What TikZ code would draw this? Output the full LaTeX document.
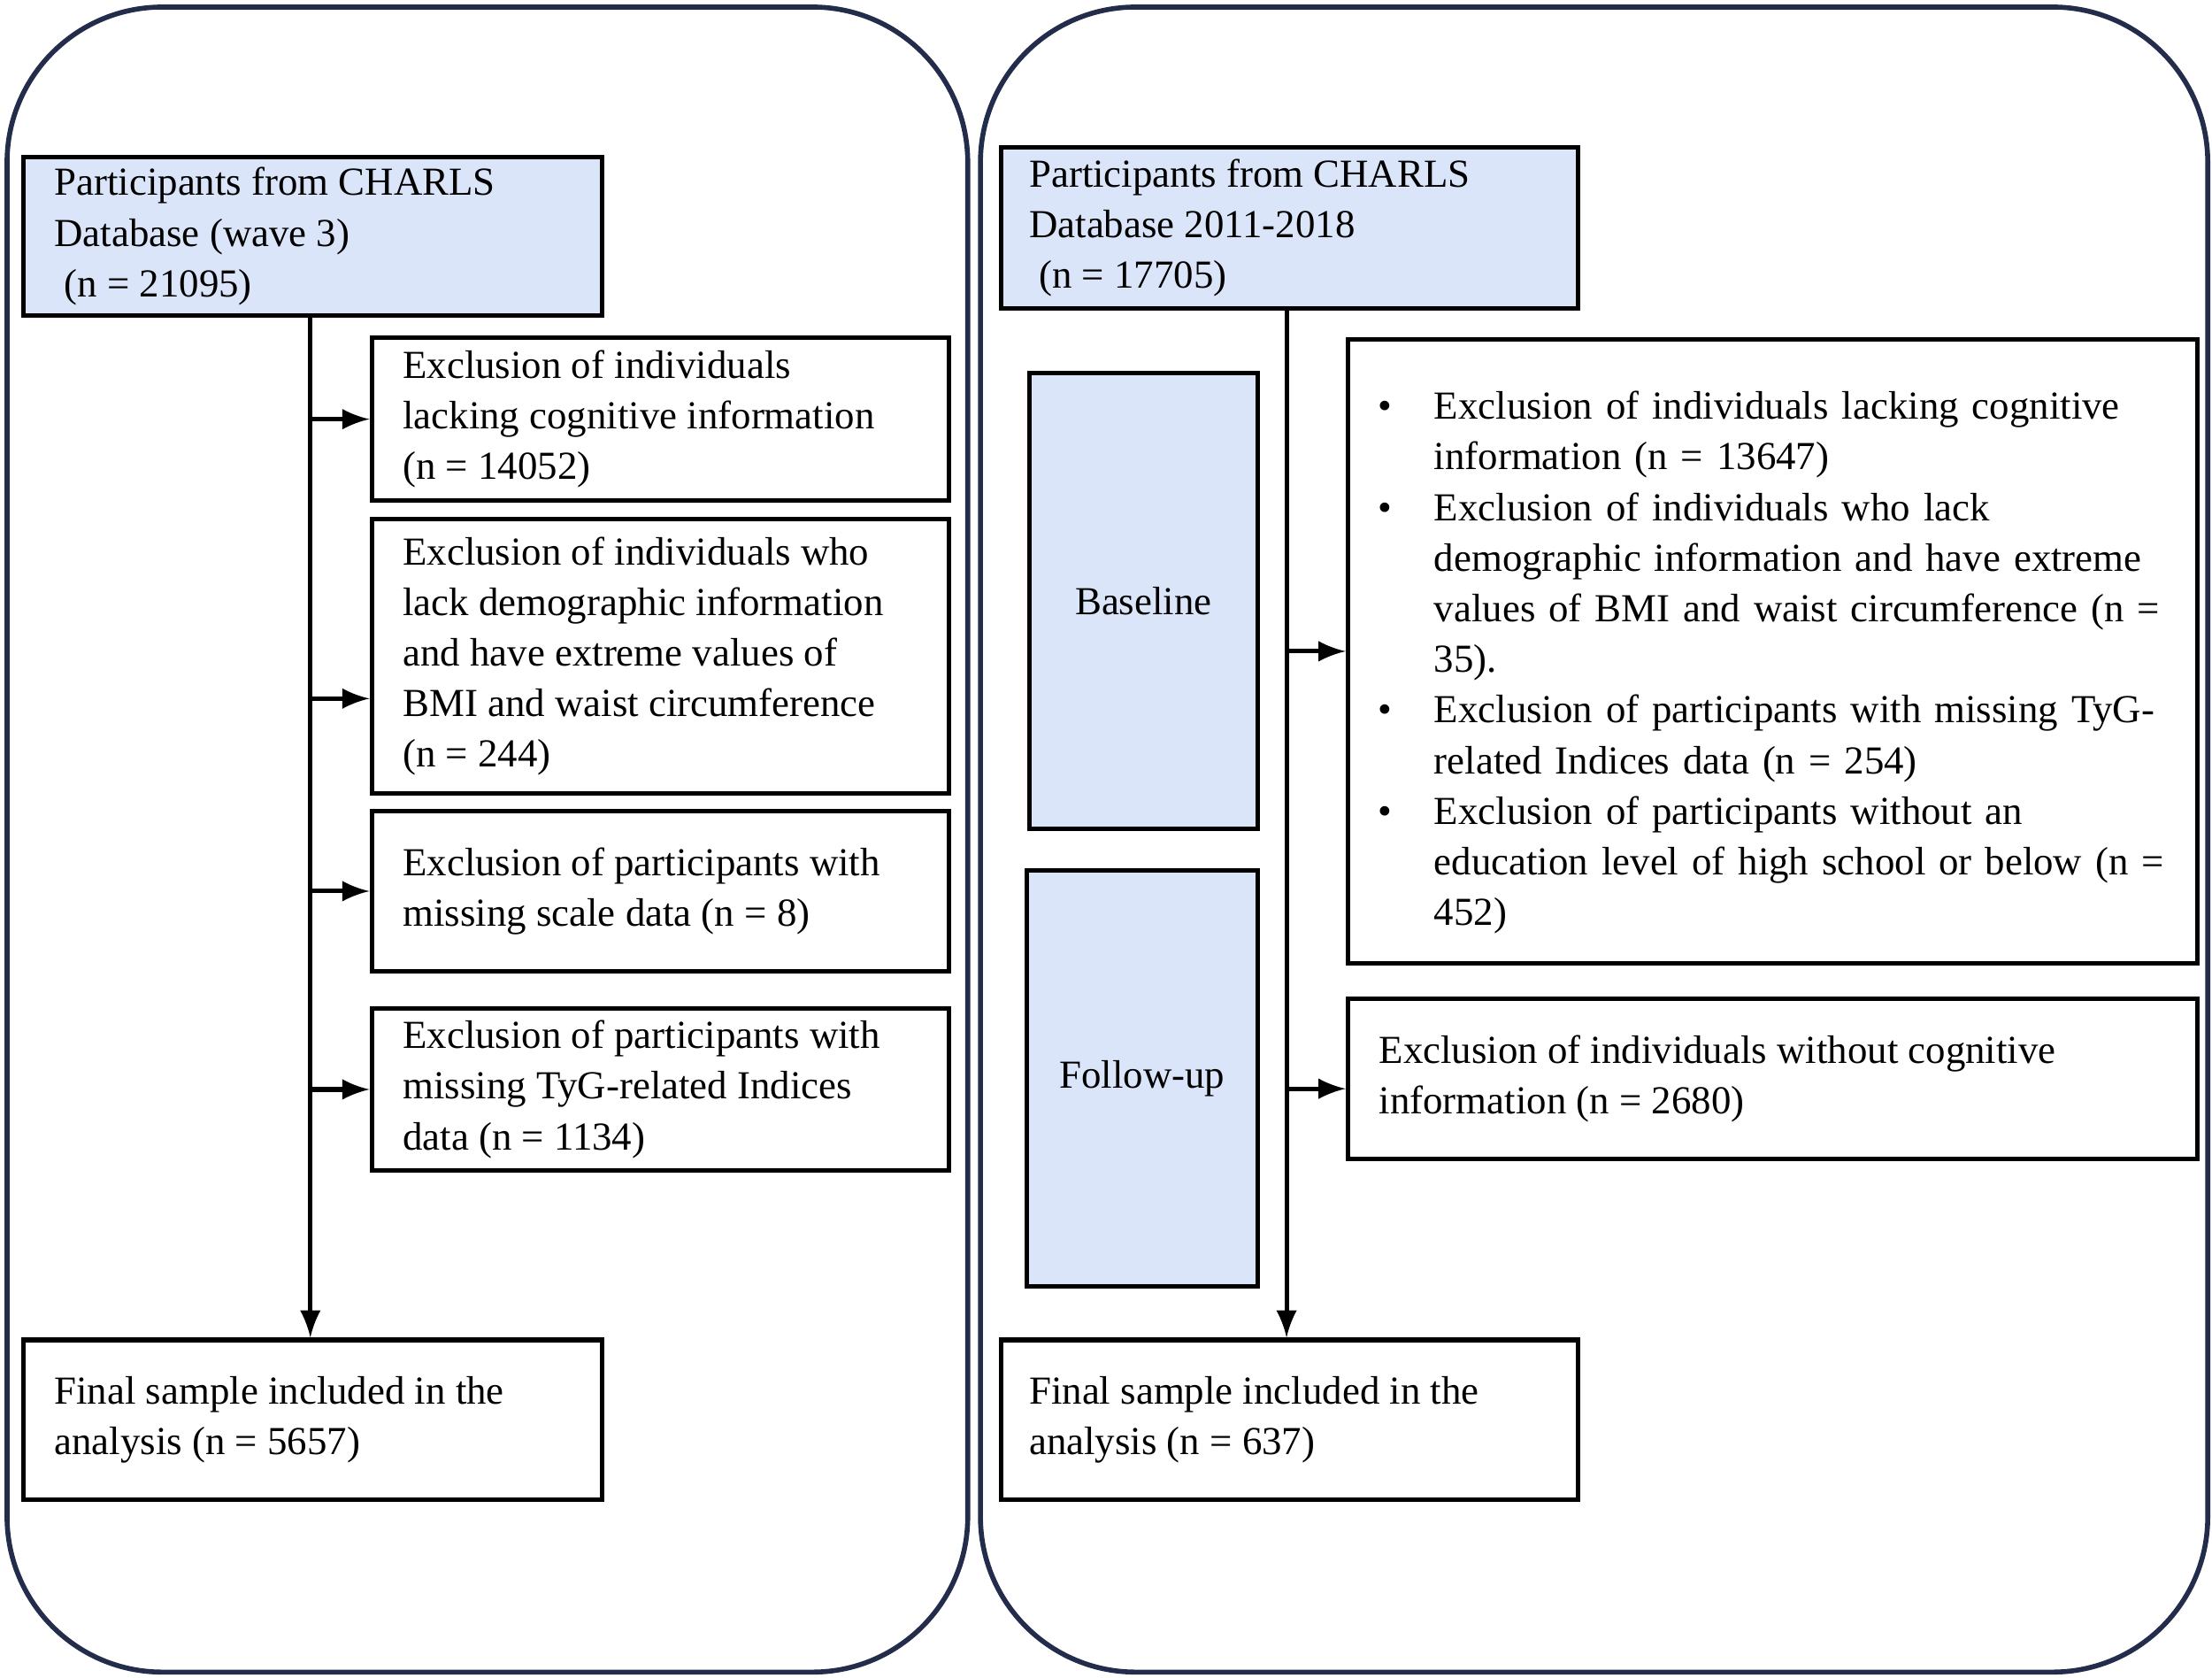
\documentclass[tikz,border=0pt]{standalone}
\usepackage{fontspec}
\setmainfont{Liberation Serif}
\usepackage{enumitem}
\usetikzlibrary{positioning,calc}
\tikzset{>=stealth}
\definecolor{boxblue}{RGB}{219,229,250}
\definecolor{frame}{RGB}{35,45,75}
\tikzset{
	box/.style={draw, line width=0.9pt, inner sep=0pt, align=left,
		font=\fontsize{8}{10.2}\selectfont},
	bluebox/.style={box, fill=boxblue},
	arr/.style={->, >=latex, line width=0.9pt},
	panel/.style={draw=frame, line width=1pt, rounded corners=1.1cm}
}
\newcommand{\boxat}[6]{% name, style, x1, y1, x2, y2
	\node[#2, minimum width={(#5-#3)*0.01cm}, minimum height={(#6-#4)*0.01cm},
		anchor=north west] (#1) at (#3,#4) {};
}
\begin{document}
\begin{tikzpicture}[x=0.01cm, y=-0.01cm]
	\useasboundingbox (0,0) rectangle (1568,1189);
	\draw[panel] (5,5) rectangle (686,1185);
	\draw[panel] (695,5) rectangle (1565,1185);

	% left panel
	\boxat{top}{bluebox}{15}{110}{425}{222}
	\boxat{exa}{box}{262}{238}{671}{353}
	\boxat{exb}{box}{262}{366}{671}{561}
	\boxat{exc}{box}{262}{573}{671}{687}
	\boxat{exd}{box}{262}{713}{671}{828}
	\boxat{final}{box}{15}{948}{425}{1061}
	\node[box, draw=none, anchor=west] at ($(top.west)+(22,0)$)
		{Participants from CHARLS\\Database (wave 3)\\\ (n = 21095)};
	\node[box, draw=none, anchor=west] at ($(exa.west)+(22,0)$)
		{Exclusion of individuals\\lacking cognitive information\\(n = 14052)};
	\node[box, draw=none, anchor=west] at ($(exb.west)+(22,0)$)
		{Exclusion of individuals who\\lack demographic information\\and have extreme values of\\BMI and waist circumference\\(n = 244)};
	\node[box, draw=none, anchor=west] at ($(exc.west)+(22,0)$)
		{Exclusion of participants with\\missing scale data (n = 8)};
	\node[box, draw=none, anchor=west] at ($(exd.west)+(22,0)$)
		{Exclusion of participants with\\missing TyG-related Indices\\data (n = 1134)};
	\node[box, draw=none, anchor=west] at ($(final.west)+(22,0)$)
		{Final sample included in the\\analysis (n = 5657)};

	\coordinate (exbin) at ($(exb.west)+(0,30)$);
	\draw[arr] (top.south -| 220,0) -- (final.north -| 220,0);
	\draw[arr] (exa.west -| 220,0) -- (exa.west);
	\draw[arr] (exbin -| 220,0) -- (exbin);
	\draw[arr] (exc.west -| 220,0) -- (exc.west);
	\draw[arr] (exd.west -| 220,0) -- (exd.west);

	% right panel
	\boxat{rtop}{bluebox}{708}{103}{1117}{217}
	\boxat{base}{bluebox}{728}{263}{890}{586}
	\boxat{follow}{bluebox}{726}{615}{890}{910}
	\boxat{rexa}{box}{954}{239}{1556}{681}
	\boxat{rexb}{box}{954}{706}{1556}{820}
	\boxat{rfinal}{box}{708}{948}{1117}{1061}
	\node[box, draw=none, anchor=west] at ($(rtop.west)+(20,0)$)
		{Participants from CHARLS\\Database 2011-2018\\\ (n = 17705)};
	\node[box, draw=none] at (base) {Baseline};
	\node[box, draw=none] at (follow) {Follow-up};
	\node[box, draw=none, anchor=west, text width=5.9cm] at ($(rexa.west)+(14,0)$) {%
		\begin{itemize}[leftmargin=0.47cm, labelsep=0.3cm, itemsep=0pt, parsep=0pt, topsep=0pt]
		\item Exclusion of individuals lacking cognitive\\information (n = 13647)
		\item Exclusion of individuals who lack\\demographic information and have extreme\\values of BMI and waist circumference (n =\\35).
		\item Exclusion of participants with missing TyG-\\related Indices data (n = 254)
		\item Exclusion of participants without an\\education level of high school or below (n =\\452)
		\end{itemize}};
	\node[box, draw=none, anchor=west] at ($(rexb.west)+(22,0)$)
		{Exclusion of individuals without cognitive\\information (n = 2680)};
	\node[box, draw=none, anchor=west] at ($(rfinal.west)+(20,0)$)
		{Final sample included in the\\analysis (n = 637)};

	\coordinate (rexbin) at ($(rexb.west)+(0,7)$);
	\draw[arr] (rtop.south -| 912,0) -- (rfinal.north -| 912,0);
	\draw[arr] (rexa.west -| 912,0) -- (rexa.west);
	\draw[arr] (rexbin -| 912,0) -- (rexbin);
\end{tikzpicture}
\end{document}
